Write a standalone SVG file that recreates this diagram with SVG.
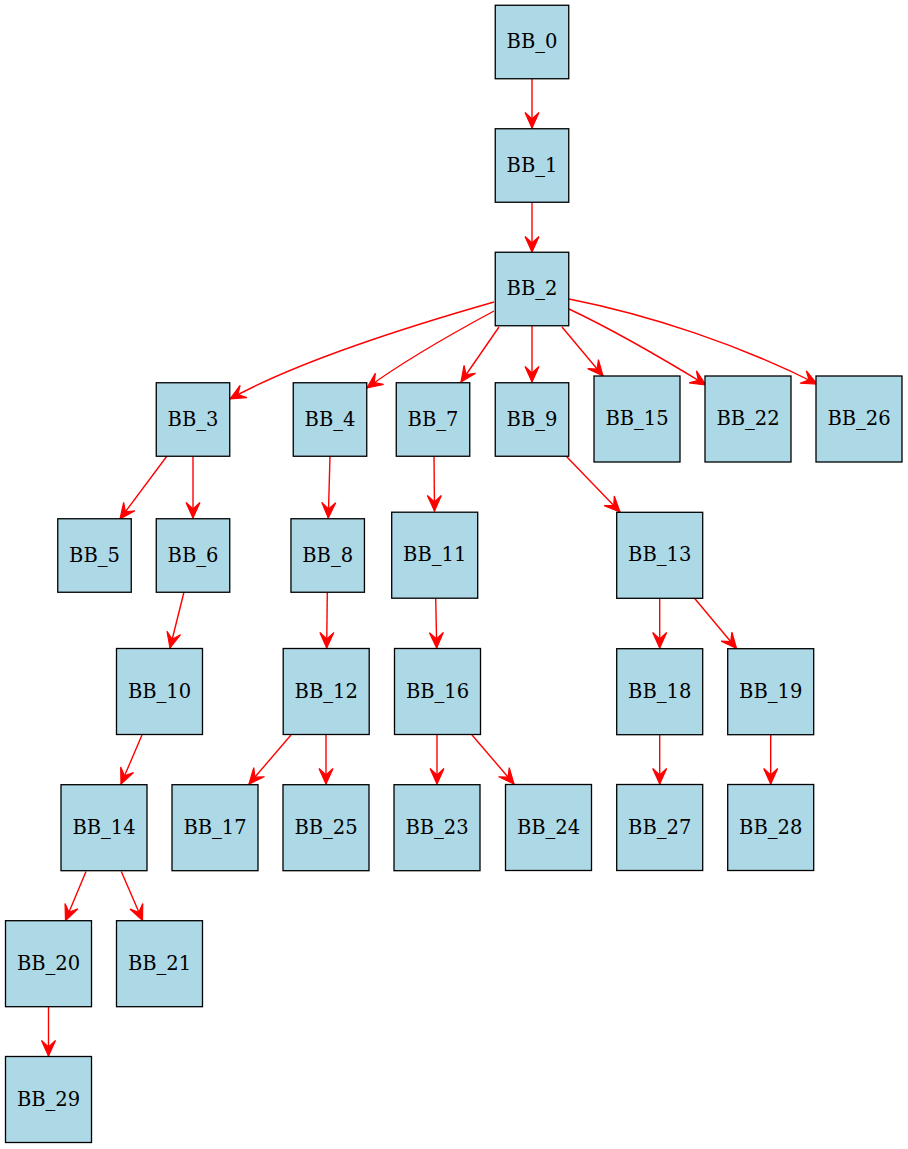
<svg xmlns="http://www.w3.org/2000/svg" width="908" height="1149" viewBox="0 0 908 1149">
<style>
.n rect{fill:#add8e6;stroke:#000;stroke-width:1.3}
.n text{font-family:"DejaVu Serif","Liberation Serif",serif;font-size:19.5px;text-anchor:middle;fill:#000}
.e path{fill:none;stroke:#ff0000;stroke-width:1.4;marker-end:url(#v)}
</style>
<defs>
<marker id="v" markerUnits="userSpaceOnUse" markerWidth="24" markerHeight="24" viewBox="-20 -12 24 24" refX="0" refY="0" orient="auto" overflow="visible">
<path d="M0,0 L-15.5,-7 L-9,0 L-15.5,7 Z" fill="#ff0000" stroke="#ff0000" stroke-width="1.2"/>
</marker>
</defs>
<rect width="908" height="1149" fill="#fff"/>
<g class="e" id="edges">
<path d="M532,79 L532,128"/>
<path d="M532,202 L532,252"/>
<path d="M494,302 C410,326 300,360 230,399"/>
<path d="M494,311 C455,332 405,360 367,388"/>
<path d="M499,327 L461,382"/>
<path d="M532,326 L532,382"/>
<path d="M562,327 L603,376"/>
<path d="M569,309 C620,333 665,360 706,385"/>
<path d="M569,299 C650,315 740,345 817,384"/>
<path d="M167,456 L120,519"/>
<path d="M193,456 L193,518"/>
<path d="M330,456 L328.3,518"/>
<path d="M434,456 L434.5,511"/>
<path d="M566,456 L620,512"/>
<path d="M184,592 L170,648"/>
<path d="M327.3,592 L326.7,648"/>
<path d="M435.7,598 L436.7,648"/>
<path d="M659.7,598 L659.7,648"/>
<path d="M694.3,598 L736.5,648.5"/>
<path d="M142,735 L121,784"/>
<path d="M291,735 L249,784"/>
<path d="M326,735 L326,784"/>
<path d="M437,735 L437,784"/>
<path d="M472,735 L514,784"/>
<path d="M659.7,735 L659.7,784"/>
<path d="M770.7,735 L770.7,784"/>
<path d="M86,871.5 L65.5,920.5"/>
<path d="M121.3,871.5 L142.5,920.5"/>
<path d="M48.5,1007 L48.5,1056"/>
</g>
<g class="n" id="BB_0"><rect x="495.25" y="5.25" width="73.5" height="73.5"/><text x="532" y="48">BB_0</text></g>
<g class="n" id="BB_1"><rect x="495.25" y="128.75" width="73.5" height="73.5"/><text x="532" y="171.5">BB_1</text></g>
<g class="n" id="BB_2"><rect x="495.25" y="252.25" width="73.5" height="73.5"/><text x="532" y="295">BB_2</text></g>
<g class="n" id="BB_3"><rect x="156.25" y="382.75" width="73.5" height="73.5"/><text x="193" y="425.5">BB_3</text></g>
<g class="n" id="BB_4"><rect x="293.25" y="382.75" width="73.5" height="73.5"/><text x="330" y="425.5">BB_4</text></g>
<g class="n" id="BB_7"><rect x="396.25" y="382.75" width="73.5" height="73.5"/><text x="433" y="425.5">BB_7</text></g>
<g class="n" id="BB_9"><rect x="495.25" y="382.75" width="73.5" height="73.5"/><text x="532" y="425.5">BB_9</text></g>
<g class="n" id="BB_15"><rect x="594" y="376" width="86" height="86"/><text x="637" y="425">BB_15</text></g>
<g class="n" id="BB_22"><rect x="705" y="376" width="86" height="86"/><text x="748" y="425">BB_22</text></g>
<g class="n" id="BB_26"><rect x="816" y="376" width="86" height="86"/><text x="859" y="425">BB_26</text></g>
<g class="n" id="BB_5"><rect x="57.75" y="518.75" width="73.5" height="73.5"/><text x="94.5" y="561.5">BB_5</text></g>
<g class="n" id="BB_6"><rect x="156.25" y="518.75" width="73.5" height="73.5"/><text x="193" y="561.5">BB_6</text></g>
<g class="n" id="BB_8"><rect x="290.95" y="518.75" width="73.5" height="73.5"/><text x="327.7" y="561.5">BB_8</text></g>
<g class="n" id="BB_11"><rect x="391.7" y="512.2" width="86" height="86"/><text x="434.7" y="561.2">BB_11</text></g>
<g class="n" id="BB_13"><rect x="616.7" y="512.3" width="86" height="86"/><text x="659.7" y="561.3">BB_13</text></g>
<g class="n" id="BB_10"><rect x="116.5" y="648.5" width="86" height="86"/><text x="159.5" y="697.5">BB_10</text></g>
<g class="n" id="BB_12"><rect x="283.2" y="648.5" width="86" height="86"/><text x="326.2" y="697.5">BB_12</text></g>
<g class="n" id="BB_16"><rect x="394.5" y="648.5" width="86" height="86"/><text x="437.5" y="697.5">BB_16</text></g>
<g class="n" id="BB_18"><rect x="616.7" y="648.7" width="86" height="86"/><text x="659.7" y="697.7">BB_18</text></g>
<g class="n" id="BB_19"><rect x="727.7" y="648.7" width="86" height="86"/><text x="770.7" y="697.7">BB_19</text></g>
<g class="n" id="BB_14"><rect x="61" y="784.7" width="86" height="86"/><text x="104" y="833.7">BB_14</text></g>
<g class="n" id="BB_17"><rect x="172" y="784.7" width="86" height="86"/><text x="215" y="833.7">BB_17</text></g>
<g class="n" id="BB_25"><rect x="283" y="784.7" width="86" height="86"/><text x="326" y="833.7">BB_25</text></g>
<g class="n" id="BB_23"><rect x="394" y="784.7" width="86" height="86"/><text x="437" y="833.7">BB_23</text></g>
<g class="n" id="BB_24"><rect x="505.5" y="784.5" width="86" height="86"/><text x="548.5" y="833.5">BB_24</text></g>
<g class="n" id="BB_27"><rect x="616.7" y="784.5" width="86" height="86"/><text x="659.7" y="833.5">BB_27</text></g>
<g class="n" id="BB_28"><rect x="727.7" y="784.5" width="86" height="86"/><text x="770.7" y="833.5">BB_28</text></g>
<g class="n" id="BB_20"><rect x="5.5" y="920.7" width="86" height="86"/><text x="48.5" y="969.7">BB_20</text></g>
<g class="n" id="BB_21"><rect x="116.5" y="920.7" width="86" height="86"/><text x="159.5" y="969.7">BB_21</text></g>
<g class="n" id="BB_29"><rect x="5.5" y="1056.5" width="86" height="86"/><text x="48.5" y="1105.5">BB_29</text></g>
</svg>
